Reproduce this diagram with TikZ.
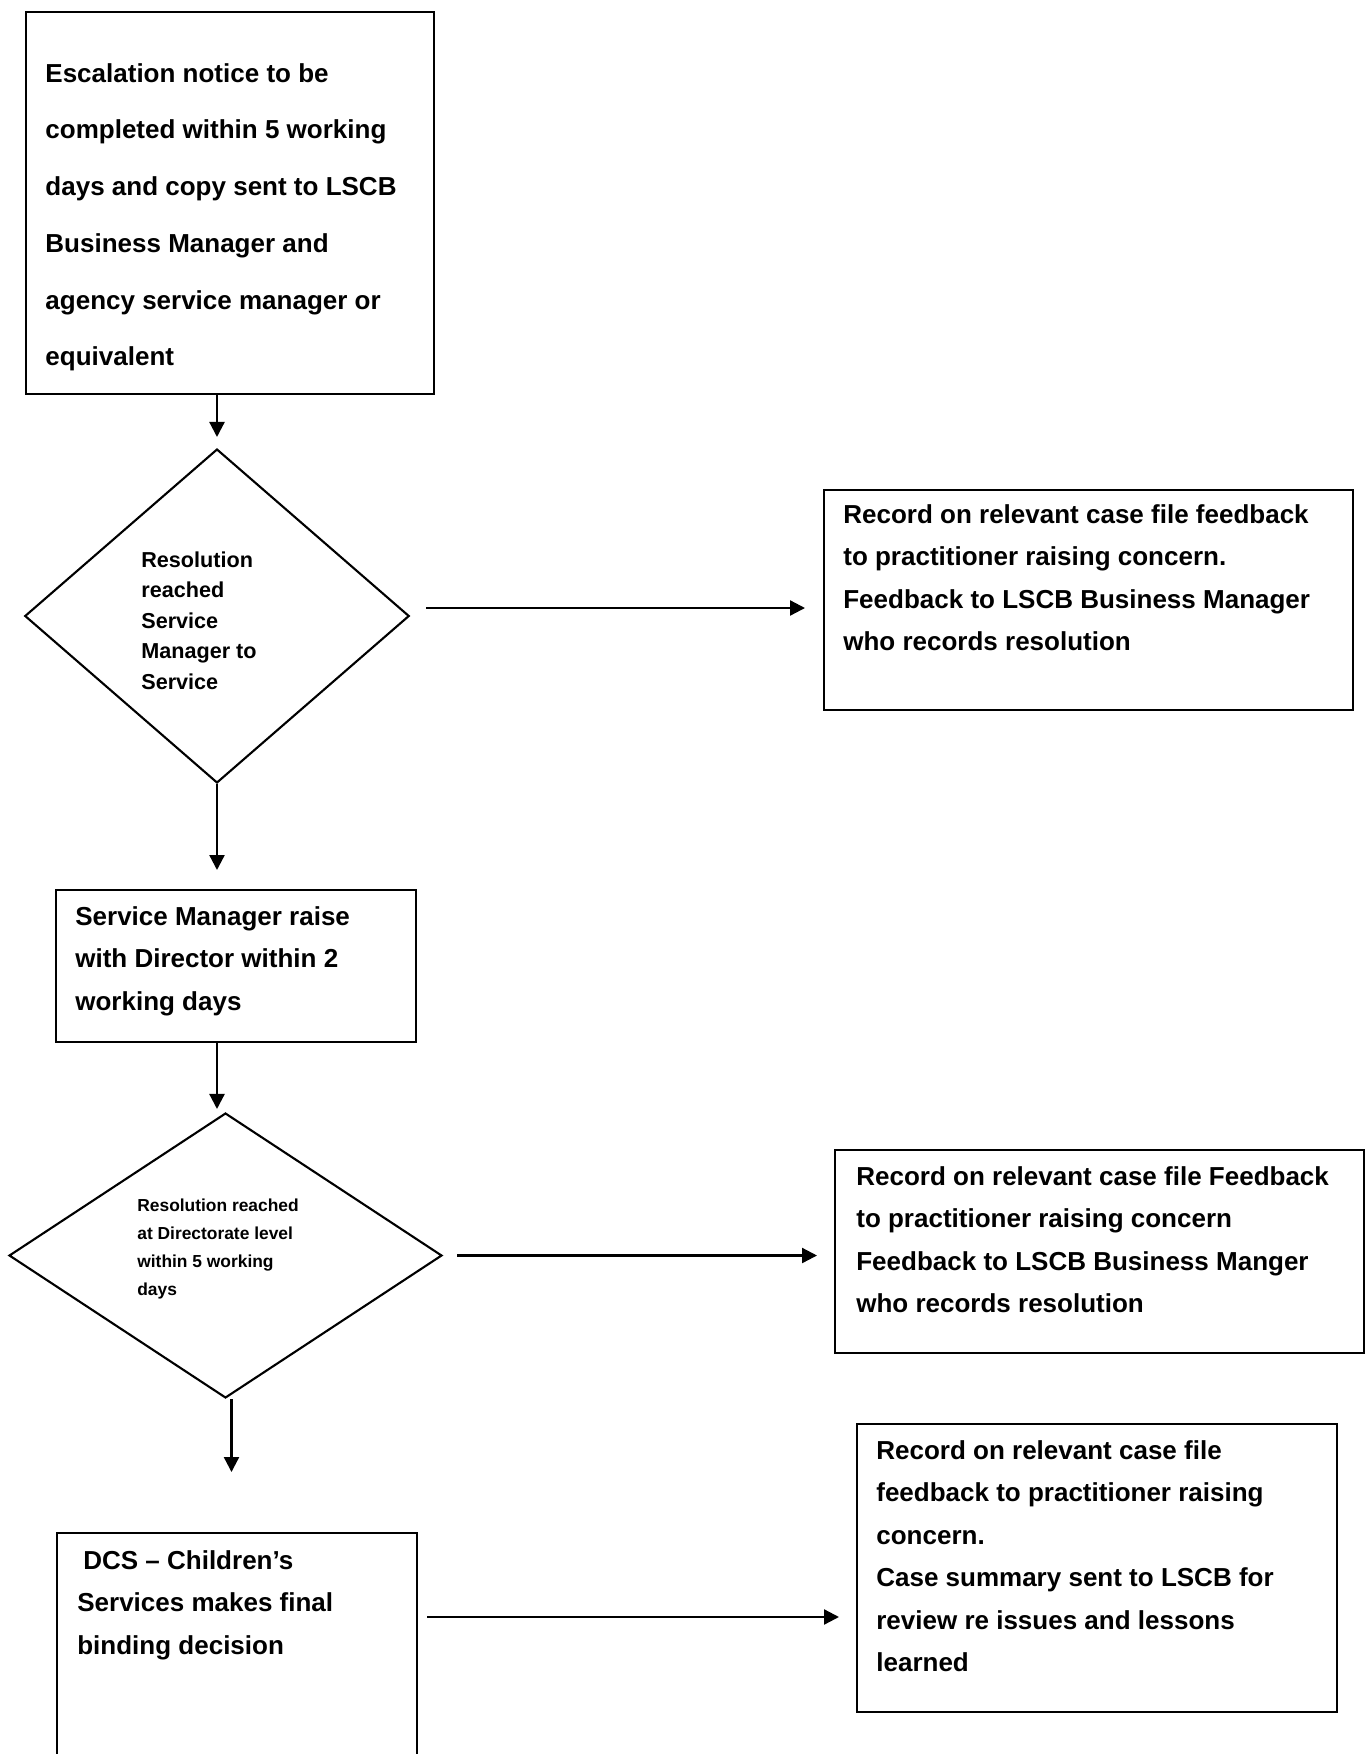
\documentclass[tikz,border=0pt]{standalone}
\usepackage{fontspec}
\setmainfont{Liberation Sans}
\usetikzlibrary{shapes.geometric,positioning,arrows.meta}

\begin{document}
\begin{tikzpicture}[
    x=0.02cm, y=-0.02cm,
    box/.style={draw, line width=1.3pt, inner sep=0pt, anchor=north west},
    dec/.style={draw, diamond, line width=1.2pt, inner sep=0pt},
    txt/.style={align=left, inner sep=0pt, font=\bfseries\fontsize{14.8}{24.2}\selectfont},
    dectxt/.style={align=left, inner sep=0pt, anchor=north west},
    arr/.style={-{Triangle[length=0.3cm,width=0.3cm]}, line width=1.3pt}
]
    \useasboundingbox (0,0) rectangle (1368,1754);
    \clip (0,0) rectangle (1368,1754);

    % left column
    \node[box, minimum width=8.17cm, minimum height=7.64cm] (notice) at (24.6,11) {};
    \node[txt, font=\bfseries\fontsize{14.8}{32.3}\selectfont, below right=1.04cm and 0.41cm of notice.north west] (notice-t)
        {Escalation notice to be\\completed within 5 working\\days and copy sent to LSCB\\Business Manager and\\agency service manager or\\equivalent};

    \node[dec, minimum width=7.69cm, minimum height=6.68cm] (dec1) at (217,616) {};
    \node[dectxt, font=\bfseries\fontsize{12.3}{17.4}\selectfont] (dec1-t) at (141,551)
        {Resolution\\reached\\Service\\Manager to\\Service};

    \node[box, minimum width=7.2cm, minimum height=3.04cm] (esc) at (55,889) {};
    \node[txt, below right=0.34cm and 0.4cm of esc.north west] (esc-t)
        {Service Manager raise\\with Director within 2\\working days};

    \node[dec, minimum width=8.66cm, minimum height=5.7cm] (dec2) at (225.5,1255.5) {};
    \node[dectxt, font=\bfseries\fontsize{9.9}{15.9}\selectfont] (dec2-t) at (137,1199)
        {Resolution reached\\at Directorate level\\within 5 working\\days};

    \node[box, minimum width=7.2cm, minimum height=6cm] (final) at (56,1532) {};
    \node[txt, below right=0.36cm and 0.42cm of final.north west] (final-t)
        {\hspace*{0.12cm}DCS -- Children’s\\Services makes final\\binding decision};

    % right column
    \node[box, minimum width=10.58cm, minimum height=4.4cm] (fb1) at (823,489) {};
    \node[txt, below right=0.3cm and 0.4cm of fb1.north west] (fb1-t)
        {Record on relevant case file feedback\\to practitioner raising concern.\\Feedback to LSCB Business Manager\\who records resolution};

    \node[box, minimum width=10.58cm, minimum height=4.06cm] (fb2) at (834,1149) {};
    \node[txt, below right=0.34cm and 0.44cm of fb2.north west] (fb2-t)
        {Record on relevant case file Feedback\\to practitioner raising concern\\Feedback to LSCB Business Manger\\who records resolution};

    \node[box, minimum width=9.6cm, minimum height=5.76cm] (fin) at (856,1423) {};
    \node[txt, below right=0.34cm and 0.4cm of fin.north west] (fin-t)
        {Record on relevant case file\\feedback to practitioner raising\\concern.\\Case summary sent to LSCB for\\review re issues and lessons\\learned};

    % connectors
    \coordinate (d1-out) at ([yshift=0.16cm]dec1.east);
    \coordinate (e-out) at (esc.south -| dec1.south);
    \coordinate (d2-out) at ([xshift=0.12cm]dec2.south);
    \coordinate (f-out) at ([yshift=-1.7cm]final.north east);

    \draw[arr, shorten >=0.22cm] (notice.south -| dec1.north) -- (dec1.north);
    \draw[arr, shorten <=0.32cm, shorten >=0.36cm] (d1-out) -- (d1-out -| fb1.west);
    \draw[arr, shorten >=0.38cm] (dec1.south) -- (dec1.south |- esc.north);
    \draw[arr, shorten >=0.06cm] (e-out) -- (e-out |- dec2.north);
    \draw[arr, shorten <=0.28cm, shorten >=0.34cm] (dec2.east) -- (dec2.east -| fb2.west);
    \draw[arr, shorten >=1.2cm] (d2-out) -- (d2-out |- final.north);
    \draw[arr, shorten <=0.18cm, shorten >=0.34cm] (f-out) -- (f-out -| fin.west);
\end{tikzpicture}
\end{document}
